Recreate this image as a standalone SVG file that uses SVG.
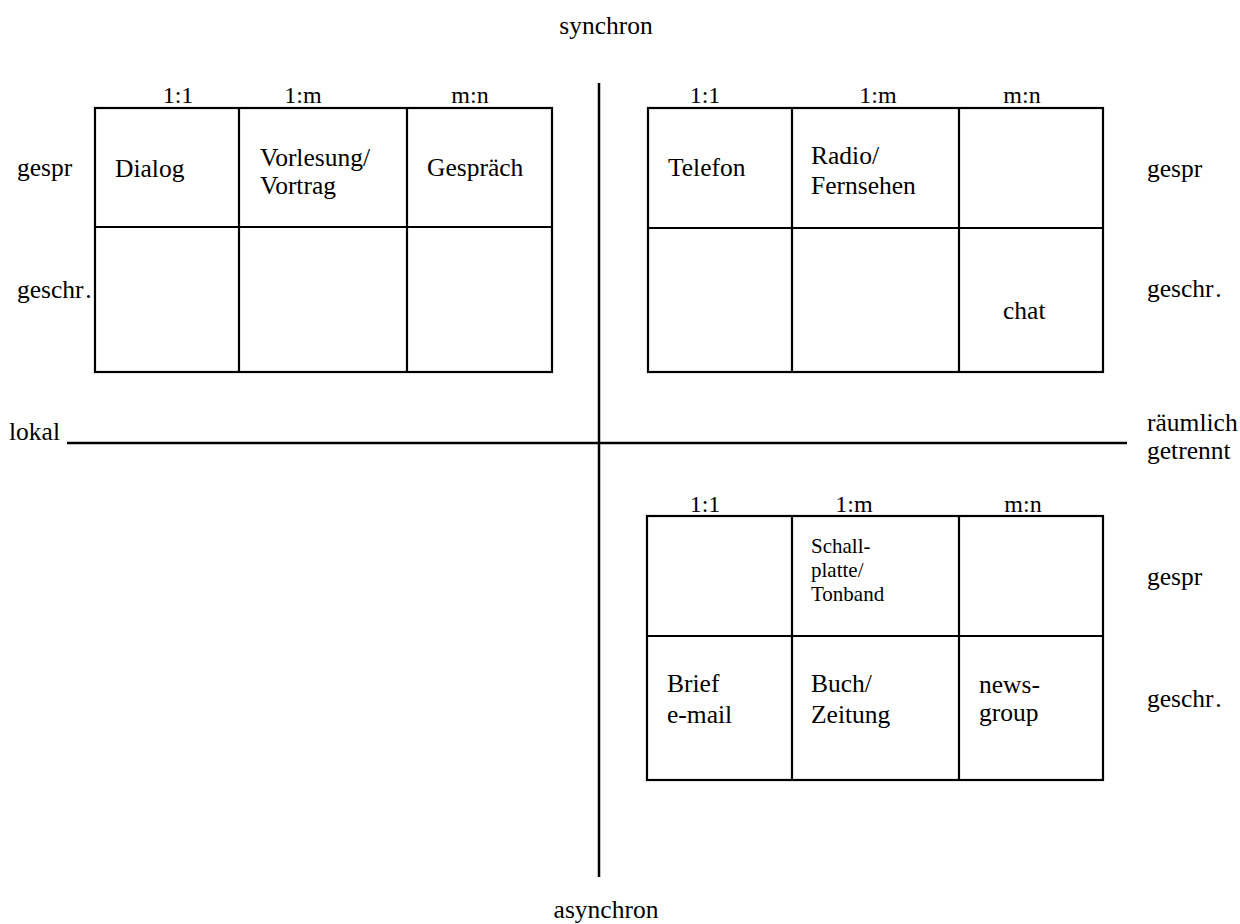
<svg xmlns="http://www.w3.org/2000/svg" width="1240" height="924" viewBox="0 0 1240 924" font-family="Liberation Serif, Times New Roman, DejaVu Serif, serif">
<style>
text{font-family:'Liberation Serif','Times New Roman','DejaVu Serif',serif;font-size:25.5px;fill:#000}
.h{font-size:24px}
.s{font-size:21px}
.c{text-anchor:middle}
.b{fill:none;stroke:#000;stroke-width:2.2}
.ax{stroke:#000;stroke-width:2.5}
</style>
<rect width="1240" height="924" fill="#fff"/>
<g id="axes">
<line class="ax" x1="67" y1="443" x2="1127" y2="443"/>
<line class="ax" x1="599" y1="83" x2="599" y2="877"/>
<text class="c" x="606" y="34">synchron</text>
<text class="c" x="606" y="918">asynchron</text>
<text x="9" y="440">lokal</text>
<text x="1147" y="431">räumlich</text>
<text x="1147" y="459">getrennt</text>
</g>
<g id="table-lokal-synchron">
<rect class="b" x="95" y="108" width="457" height="264"/>
<line class="b" x1="95" y1="227" x2="552" y2="227"/>
<line class="b" x1="239" y1="108" x2="239" y2="372"/>
<line class="b" x1="407" y1="108" x2="407" y2="372"/>
<text class="c h" x="178" y="103">1:1</text>
<text class="c h" x="303" y="103">1:m</text>
<text class="c h" x="470" y="103">m:n</text>
<text x="17" y="176">gespr</text>
<text x="17" y="298">geschr<tspan dx="3">.</tspan></text>
<text x="115" y="177">Dialog</text>
<text x="260" y="166">Vorlesung/</text>
<text x="260" y="194">Vortrag</text>
<text x="427" y="176">Gespräch</text>
</g>
<g id="table-getrennt-synchron">
<rect class="b" x="648" y="108" width="455" height="264"/>
<line class="b" x1="648" y1="228" x2="1103" y2="228"/>
<line class="b" x1="792" y1="108" x2="792" y2="372"/>
<line class="b" x1="959" y1="108" x2="959" y2="372"/>
<text class="c h" x="705" y="103">1:1</text>
<text class="c h" x="878" y="103">1:m</text>
<text class="c h" x="1022" y="103">m:n</text>
<text x="668" y="176">Telefon</text>
<text x="811" y="164">Radio/</text>
<text x="811" y="194">Fernsehen</text>
<text x="1003" y="319">chat</text>
<text x="1147" y="177">gespr</text>
<text x="1147" y="297">geschr<tspan dx="3">.</tspan></text>
</g>
<g id="table-getrennt-asynchron">
<rect class="b" x="647" y="516" width="456" height="264"/>
<line class="b" x1="647" y1="636" x2="1103" y2="636"/>
<line class="b" x1="792" y1="516" x2="792" y2="780"/>
<line class="b" x1="959" y1="516" x2="959" y2="780"/>
<text class="c h" x="705" y="512">1:1</text>
<text class="c h" x="854" y="512">1:m</text>
<text class="c h" x="1023" y="512">m:n</text>
<text class="s" x="811" y="553">Schall-</text>
<text class="s" x="811" y="577">platte/</text>
<text class="s" x="811" y="601">Tonband</text>
<text x="667" y="692">Brief</text>
<text x="667" y="723">e-mail</text>
<text x="811" y="692">Buch/</text>
<text x="811" y="723">Zeitung</text>
<text x="979" y="693">news-</text>
<text x="979" y="721">group</text>
<text x="1147" y="585">gespr</text>
<text x="1147" y="707">geschr<tspan dx="3">.</tspan></text>
</g>
</svg>
